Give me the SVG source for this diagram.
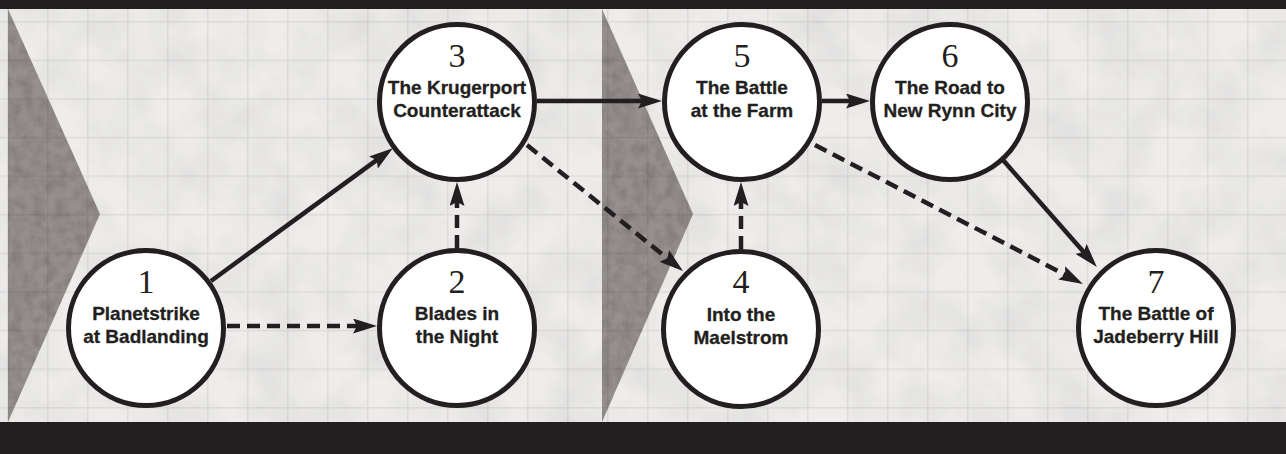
<svg xmlns="http://www.w3.org/2000/svg" width="1286" height="454" viewBox="0 0 1286 454">
<defs>
<style>
.node circle{fill:#ffffff;stroke:#231f20;stroke-width:5}
.num{font-family:"Liberation Serif","DejaVu Serif",serif;font-size:34px;fill:#231f20;text-anchor:middle}
.lbl{font-family:"Liberation Sans",Arial,sans-serif;font-weight:bold;font-size:19px;fill:#231f20;text-anchor:middle;stroke:#231f20;stroke-width:0.3}
.edge{stroke:#231f20;stroke-width:4.5;fill:none;marker-end:url(#arr)}
.dash{stroke-dasharray:13 7}
.band{fill:#231f20}
.chev{fill:#958f8d}
</style>
<pattern id="grid" width="40" height="38.6" patternUnits="userSpaceOnUse" x="7" y="21">
<path d="M0,0.75 H40 M0.75,0 V38.6" stroke="#000000" stroke-opacity="0.065" stroke-width="1.5" fill="none"/>
</pattern>
<marker id="arr" markerUnits="userSpaceOnUse" markerWidth="24" markerHeight="15" viewBox="0 0 24 15" refX="6" refY="7.5" orient="auto">
<path d="M0,0 L24,7.5 L0,15 L4,7.5 Z" fill="#231f20"/>
</marker>
<filter id="paper" x="0" y="0" width="100%" height="100%">
<feTurbulence type="fractalNoise" baseFrequency="0.02" numOctaves="4" seed="7" result="t"/>
<feColorMatrix in="t" type="matrix" values="0 0 0 0 0  0 0 0 0 0  0 0 0 0 0  0.22 0 0 0 -0.07" result="d"/>
<feComposite in="d" in2="SourceAlpha" operator="in" result="d2"/>
<feMerge><feMergeNode in="SourceGraphic"/><feMergeNode in="d2"/></feMerge>
</filter>
<filter id="grain" x="0" y="0" width="100%" height="100%">
<feTurbulence type="fractalNoise" baseFrequency="0.09" numOctaves="4" seed="4" result="t"/>
<feColorMatrix in="t" type="matrix" values="0 0 0 0 0  0 0 0 0 0  0 0 0 0 0  0.5 0 0 0 -0.17" result="d"/>
<feComposite in="d" in2="SourceAlpha" operator="in" result="d2"/>
<feMerge><feMergeNode in="SourceGraphic"/><feMergeNode in="d2"/></feMerge>
</filter>
</defs>

<g id="background">
<rect x="0" y="0" width="1286" height="454" fill="#eeedec" filter="url(#paper)"/>
<polygon class="chev" points="8,9 100,214 8,422" filter="url(#grain)"/>
<polygon class="chev" points="602,9 693,214 602,422" filter="url(#grain)"/>
<rect x="0" y="9" width="1286" height="413" fill="url(#grid)"/>
<rect class="band" x="0" y="0" width="1286" height="9"/>
<rect class="band" x="0" y="422" width="1286" height="32"/>
</g>

<g id="node1" class="node">
<circle cx="146" cy="328" r="77.5"/>
<text class="num" x="146" y="293">1</text>
<text class="lbl" x="146" y="320">Planetstrike</text>
<text class="lbl" x="146" y="343">at Badlanding</text>
</g>
<g id="node2" class="node">
<circle cx="457" cy="328" r="77.5"/>
<text class="num" x="457" y="293">2</text>
<text class="lbl" x="457" y="320">Blades in</text>
<text class="lbl" x="457" y="343">the Night</text>
</g>
<g id="node3" class="node">
<circle cx="457" cy="102" r="77.5"/>
<text class="num" x="457" y="67">3</text>
<text class="lbl" x="457" y="94">The Krugerport</text>
<text class="lbl" x="457" y="117">Counterattack</text>
</g>
<g id="node4" class="node">
<circle cx="741" cy="329" r="77.5"/>
<text class="num" x="741" y="293">4</text>
<text class="lbl" x="741" y="321">Into the</text>
<text class="lbl" x="741" y="344">Maelstrom</text>
</g>
<g id="node5" class="node">
<circle cx="742" cy="102" r="77.5"/>
<text class="num" x="742" y="67">5</text>
<text class="lbl" x="742" y="94">The Battle</text>
<text class="lbl" x="742" y="117">at the Farm</text>
</g>
<g id="node6" class="node">
<circle cx="950" cy="102" r="77.5"/>
<text class="num" x="950" y="67">6</text>
<text class="lbl" x="950" y="94">The Road to</text>
<text class="lbl" x="950" y="117">New Rynn City</text>
</g>
<g id="node7" class="node">
<circle cx="1156" cy="328" r="77.5"/>
<text class="num" x="1156" y="293">7</text>
<text class="lbl" x="1156" y="320">The Battle of</text>
<text class="lbl" x="1156" y="343">Jadeberry Hill</text>
</g>

<g id="connectors">
<line class="edge" x1="211" y1="281" x2="378.3" y2="158.9"/>
<line class="edge dash" x1="227" y1="326" x2="359" y2="326"/>
<line class="edge dash" x1="457" y1="248" x2="457" y2="200"/>
<line class="edge" x1="537" y1="101" x2="644" y2="101"/>
<line class="edge dash" x1="527" y1="145" x2="669" y2="259.7"/>
<line class="edge dash" x1="741" y1="249" x2="741" y2="200"/>
<line class="edge" x1="822" y1="101" x2="852" y2="101"/>
<line class="edge dash" x1="815" y1="145" x2="1067" y2="275.7"/>
<line class="edge" x1="1003" y1="160" x2="1085" y2="253.5"/>
</g>
</svg>
